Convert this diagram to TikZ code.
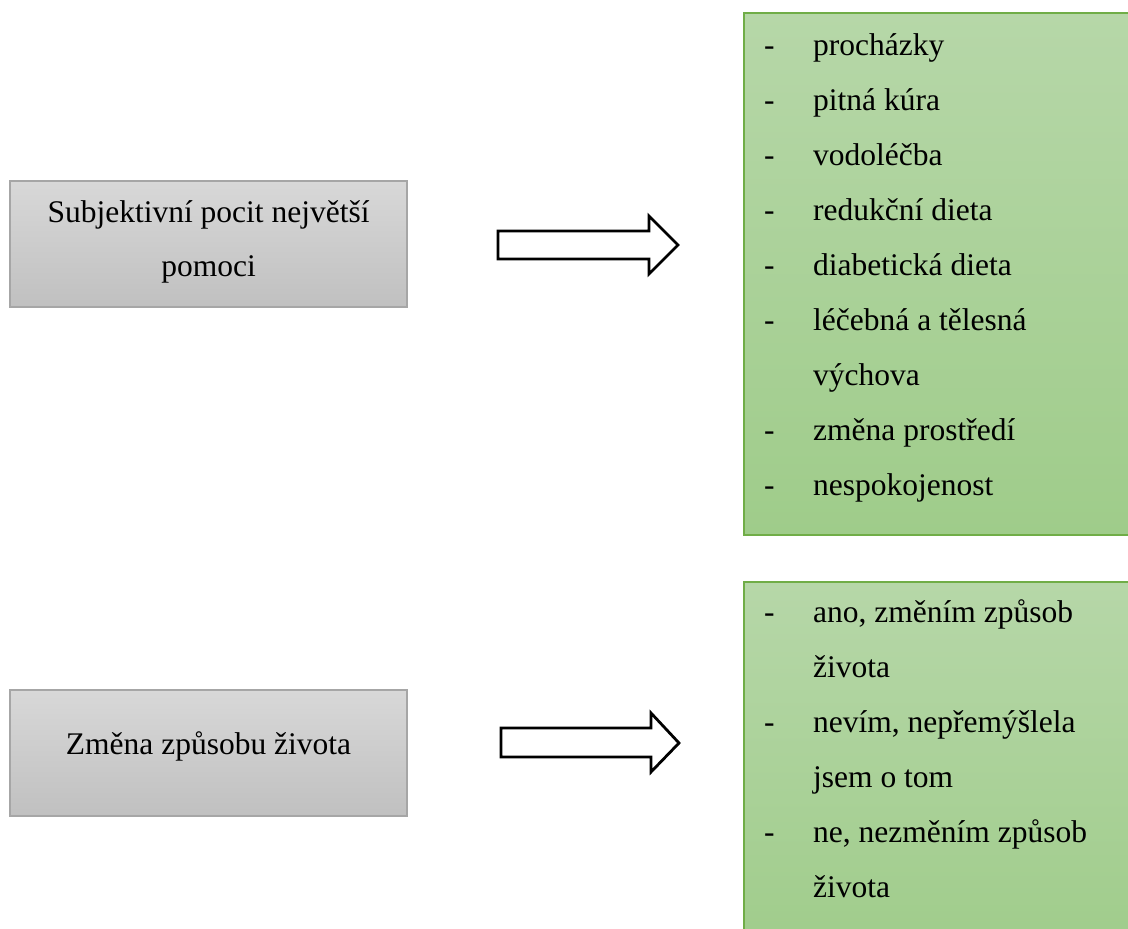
\documentclass[tikz,border=0pt]{standalone}
\usepackage{fontspec}
\setmainfont{Liberation Serif}
\definecolor{boxGrayTop}{RGB}{216,216,216}
\definecolor{boxGrayBot}{RGB}{192,192,192}
\definecolor{boxGrayLine}{RGB}{166,166,166}
\definecolor{boxGreenTop}{RGB}{182,215,168}
\definecolor{boxGreenBot}{RGB}{159,204,138}
\definecolor{boxGreenLine}{RGB}{112,173,71}
\tikzset{
  graybox/.style={draw=boxGrayLine, line width=1.2pt, top color=boxGrayTop,
    bottom color=boxGrayBot, inner sep=0pt},
  greenbox/.style={draw=boxGreenLine, line width=1.4pt, top color=boxGreenTop,
    bottom color=boxGreenBot, inner sep=0pt},
  blockarrow/.style={draw=black, fill=white, line width=2.8pt, line join=miter},
  txt/.style={inner sep=0pt, font=\fontsize{31.5}{55}\selectfont},
  item/.style={txt, anchor=base west},
}
\begin{document}
\begin{tikzpicture}[x=1pt, y=-1pt]
\useasboundingbox (0,0) rectangle (1128,929);
\clip (0,0) rectangle (1128,929);

% left-hand question boxes
\node[graybox, minimum width=397pt, minimum height=126pt] (q1) at (208.5,244) {};
\node[txt, anchor=base] (q1a) at (208.5,222) {Subjektivní pocit největší};
\node[txt, anchor=base] (q1b) at (208.5,276) {pomoci};

\node[graybox, minimum width=397pt, minimum height=126pt] (q2) at (208.5,753) {};
\node[txt, anchor=base] (q2a) at (208.5,754) {Změna způsobu života};

% right-hand answer boxes (running off the page edge)
\node[greenbox, minimum width=420pt, minimum height=522pt] (r1) at (954,274) {};
\node[greenbox, minimum width=420pt, minimum height=380pt] (r2) at (954,772) {};

% block arrows
\draw[blockarrow] (498,231) -- (649,231) -- (649,216) -- (678,245) -- (649,274)
  -- (649,259) -- (498,259) -- cycle;
\draw[blockarrow] (501,728) -- (651,728) -- (651,713) -- (679,743) -- (651,772)
  -- (651,757) -- (501,757) -- cycle;

% first answer list
\node[item] (d1) at (764,55) {-};    \node[item] (t1) at (813,55) {procházky};
\node[item] (d2) at (764,110) {-};   \node[item] (t2) at (813,110) {pitná kúra};
\node[item] (d3) at (764,165) {-};   \node[item] (t3) at (813,165) {vodoléčba};
\node[item] (d4) at (764,220) {-};   \node[item] (t4) at (813,220) {redukční dieta};
\node[item] (d5) at (764,275) {-};   \node[item] (t5) at (813,275) {diabetická dieta};
\node[item] (d6) at (764,330) {-};   \node[item] (t6) at (813,330) {léčebná a tělesná};
                                     \node[item] (t7) at (813,385) {výchova};
\node[item] (d8) at (764,440) {-};   \node[item] (t8) at (813,440) {změna prostředí};
\node[item] (d9) at (764,495) {-};   \node[item] (t9) at (813,495) {nespokojenost};

% second answer list
\node[item] (e1) at (764,622) {-};   \node[item] (u1) at (813,622) {ano, změním způsob};
                                     \node[item] (u2) at (813,677) {života};
\node[item] (e3) at (764,732) {-};   \node[item] (u3) at (813,732) {nevím, nepřemýšlela};
                                     \node[item] (u4) at (813,787) {jsem o tom};
\node[item] (e5) at (764,842) {-};   \node[item] (u5) at (813,842) {ne, nezměním způsob};
                                     \node[item] (u6) at (813,897) {života};
\end{tikzpicture}
\end{document}
